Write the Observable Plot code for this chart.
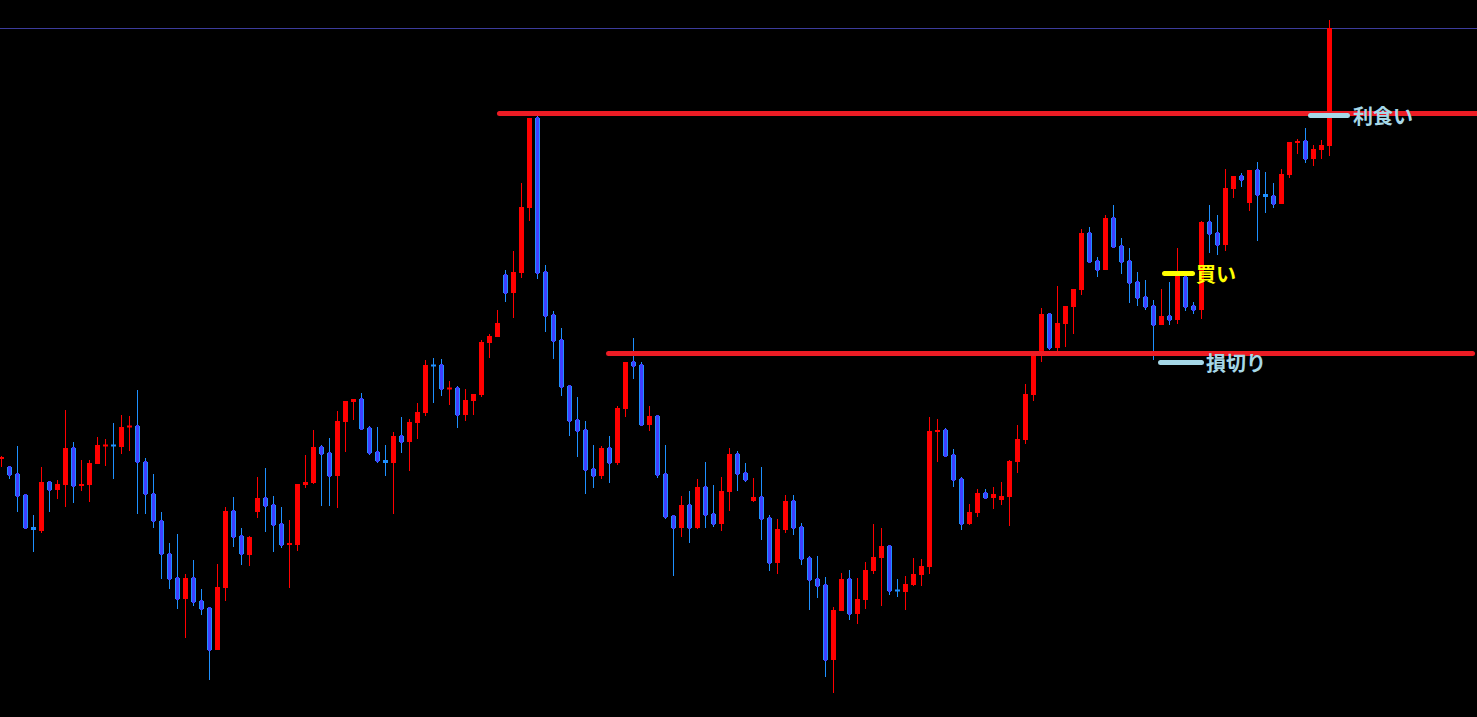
<!DOCTYPE html>
<html><head><meta charset="utf-8">
<script src="https://cdn.jsdelivr.net/npm/d3@7"></script>
<script src="https://cdn.jsdelivr.net/npm/@observablehq/plot@0.6"></script>
<style>html,body{margin:0;padding:0;background:#000;overflow:hidden}#chart svg{display:block}</style>
</head><body><div id="chart"></div>
<script>
// OHLC price series (price points), one entry per bar
const opens = [542,533,526,505,473,469,518,510,515,552,514,515,536,554,555,553,573,574,538,506,479,446,422,401,422,399,392,350,412,489,464,445,488,502,495,476,456,455,515,517,553,547,524,578,598,601,572,548,540,537,564,558,577,587,635,635,611,612,585,599,605,657,663,725,707,727,792,882,728,685,660,614,580,570,531,524,552,537,591,638,635,575,584,526,484,472,495,472,513,486,476,508,546,527,499,503,482,437,470,499,473,442,421,415,340,389,421,386,400,429,442,454,410,408,415,425,433,569,570,545,521,476,487,507,502,500,503,538,560,605,648,686,652,676,693,710,767,739,730,782,754,739,718,703,694,675,684,680,723,694,690,778,767,755,811,824,797,830,806,804,796,825,858,859,841,850,854];
const closes = [542,525,504,472,470,518,510,516,552,514,516,537,555,555,554,573,574,538,506,479,446,421,401,422,398,391,350,413,489,463,446,463,502,494,475,455,456,516,518,553,546,524,579,599,601,571,547,539,537,564,558,578,588,635,634,611,612,585,600,606,658,664,677,707,728,793,882,727,684,659,613,579,569,530,524,552,537,592,638,634,575,584,525,483,472,495,472,513,485,476,509,546,526,520,503,481,437,471,499,472,441,420,414,340,390,421,386,401,430,443,454,409,409,416,426,434,569,569,544,520,476,488,507,502,506,504,539,561,606,647,686,652,677,694,711,767,738,730,782,753,738,717,702,693,675,684,680,725,693,690,778,766,755,812,824,820,830,805,803,796,826,858,858,841,851,855,972];
const highs = [544,533,554,506,485,533,518,520,590,558,540,540,563,561,577,585,584,610,542,526,488,457,466,426,440,411,393,436,493,503,472,464,523,532,504,493,480,516,545,570,555,562,589,599,601,607,574,573,555,568,583,581,597,640,642,641,619,614,611,606,660,666,690,730,749,817,882,885,735,689,672,615,603,579,555,554,564,594,638,662,638,594,584,555,484,504,509,521,538,515,523,552,549,537,522,533,485,481,505,505,477,444,444,423,393,427,430,422,438,476,472,455,421,424,442,441,583,581,572,551,523,496,511,511,513,518,540,575,616,648,692,687,714,694,711,771,773,743,785,795,762,752,728,720,700,711,718,752,728,698,779,795,785,831,824,827,830,838,828,817,831,858,861,872,855,860,980];
const lows = [533,521,488,472,448,467,488,501,493,497,509,498,536,534,521,546,549,486,486,472,421,411,391,362,394,385,320,350,399,453,435,434,482,468,448,452,412,449,512,516,494,494,492,548,580,571,545,537,524,486,547,529,561,584,597,604,595,572,579,585,603,642,663,698,682,722,779,721,668,641,604,564,543,506,512,521,517,535,583,621,575,569,522,481,424,463,457,471,472,473,469,489,509,518,498,460,429,426,467,465,435,390,402,323,307,389,380,376,391,426,394,405,403,390,414,414,426,538,544,513,470,475,483,502,491,495,474,527,556,599,638,650,649,653,666,705,738,723,730,753,726,697,694,690,640,675,675,676,689,686,681,747,745,749,802,813,789,759,787,792,796,822,846,837,834,841,844];

// Reference price lines
const currentPrice = 972;
const levelValues = [887, 647];
const levelStarts = [62.31, 75.94];
const levelEnds = [184.5, 183.94];

// Trade markers
const markerLabels = ["買い", "損切り", "利食い"];
const markerValues = [727, 638, 885];
const markerStarts = [145.44, 144.94, 163.69];
const markerEnds = [148.94, 150.06, 168.31];
const markerTextAt = [149.3, 150.55, 168.95];

const markerColors = {"買い": "#ffff00", "損切り": "#a6d8e8", "利食い": "#a6d8e8"};

const bars = opens.map((o, i) => {
  const c = closes[i];
  const up = c >= o;
  let top = Math.max(o, c), bot = Math.min(o, c);
  if (top - bot < 2) { const m = (top + bot) / 2; top = m + 1; bot = m - 1; }
  return {i, o, c, h: highs[i], l: lows[i], up, top, bot};
});
const ups = bars.filter(d => d.up);
const downs = bars.filter(d => !d.up);
const levels = levelValues.map((v, j) => ({v, x1: levelStarts[j], x2: levelEnds[j]}));
const markers = markerLabels.map((t, j) => ({t, v: markerValues[j], x1: markerStarts[j], x2: markerEnds[j], tx: markerTextAt[j]}));

const RED = "#ff0000", BLUE_EDGE = "#1e90ff", BLUE_FILL = "#3f3fff";

const chart = Plot.plot({
  width: 1477, height: 717, margin: 0,
  x: {domain: [-0.125, 184.5], axis: null},
  y: {domain: [283, 1000], axis: null},
  style: {background: "#000"},
  marks: [
    Plot.ruleY([currentPrice], {stroke: "#3c3c9c", strokeWidth: 1}),
    Plot.ruleX(ups, {x: "i", y1: "l", y2: "h", stroke: RED, strokeWidth: 1}),
    Plot.ruleX(downs, {x: "i", y1: "l", y2: "h", stroke: BLUE_EDGE, strokeWidth: 1}),
    Plot.ruleX(ups, {x: "i", y1: "bot", y2: "top", stroke: RED, strokeWidth: 5}),
    Plot.ruleX(downs, {x: "i", y1: "bot", y2: "top", stroke: BLUE_EDGE, strokeWidth: 5}),
    Plot.ruleX(downs.filter(d => (d.top - d.bot) > 3), {x: "i", y1: "bot", y2: "top", stroke: BLUE_FILL, strokeWidth: 3, insetTop: 1, insetBottom: 1}),
    Plot.ruleY(levels, {y: "v", x1: "x1", x2: "x2", stroke: "#ec1c24", strokeWidth: 5, strokeLinecap: "round"}),
    Plot.ruleY(markers, {y: "v", x1: "x1", x2: "x2", stroke: d => markerColors[d.t], strokeWidth: 5, strokeLinecap: "round"}),
    Plot.text(markers, {x: "tx", y: "v", text: "t", fill: d => markerColors[d.t], textAnchor: "start", dy: 2, fontSize: 20, fontWeight: "bold", fontFamily: "'Noto Sans CJK JP', sans-serif"})
  ]
});
document.getElementById("chart").appendChild(chart);
</script>
</body></html>
